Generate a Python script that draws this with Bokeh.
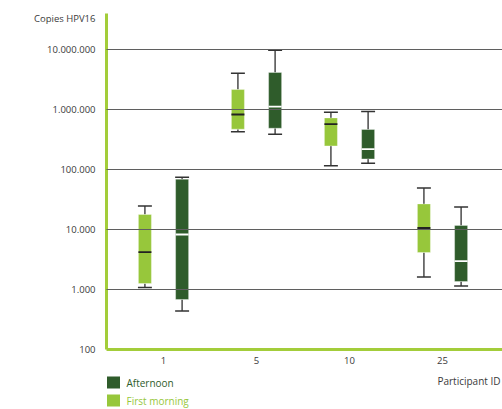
from bokeh.plotting import figure
from bokeh.layouts import column
from bokeh.models import Range1d, FixedTicker
from bokeh.core.properties import value
from bokeh.embed import file_html
from bokeh.resources import INLINE

participants = ["1", "5", "10", "25"]

# First morning series (light green)
fm_low = [1080, 424000, 115000, 1620]
fm_q1 = [1260, 470000, 247000, 4140]
fm_med = [4190, 826000, 569000, 10600]
fm_q3 = [17800, 2150000, 725000, 26700]
fm_high = [24700, 4030000, 902000, 49400]

# Afternoon series (dark green)
af_low = [440, 387000, 127000, 1140]
af_q1 = [681, 487000, 150000, 1360]
af_med = [8250, 1120000, 218000, 2960]
af_q3 = [68900, 4140000, 464000, 11700]
af_high = [74500, 9730000, 926000, 23800]

ytick_values = [100, 1000, 10000, 100000, 1000000, 10000000]
ytick_labels = ["100", "1.000", "10.000", "100.000", "1.000.000", "10.000.000"]
y_title = "Copies HPV16"
x_title = "Participant ID"
series_names = ["Afternoon", "First morning"]

LIGHT = "#97C73B"
DARK = "#2F5C2B"
AXIS_GREEN = "#A3CD3A"
TEXT = "#3a3a3a"
FONT = "Open Sans"

W = 502
TOP = 13
FRAME_BOTTOM = 349
MAIN_H = 370
LEFT = 106
Y_TOP = 10 ** 7.6

p = figure(width=W, height=MAIN_H, y_axis_type="log",
           x_range=Range1d(0.387, 4.645), y_range=Range1d(100, Y_TOP),
           output_backend="svg", toolbar_location=None,
           min_border_left=LEFT, min_border_right=0, min_border_top=TOP,
           min_border_bottom=MAIN_H - FRAME_BOTTOM)
p.outline_line_color = None
p.xgrid.grid_line_color = None
p.ygrid.ticker = FixedTicker(ticks=ytick_values)
p.ygrid.grid_line_color = "#5f5f5f"
p.ygrid.grid_line_width = 1
p.ygrid.level = "annotation"

xs = list(range(1, len(participants) + 1))
p.xaxis.ticker = FixedTicker(ticks=xs)
p.xaxis.major_label_overrides = {x: lab for x, lab in zip(xs, participants)}

# y axis: the axis title sits in the tick-label column near the top
title_pos = 10 ** (7.6 - 4.5 / 60)
p.yaxis.ticker = FixedTicker(ticks=ytick_values + [title_pos])
overrides = {v: lab for v, lab in zip(ytick_values, ytick_labels)}
overrides[title_pos] = y_title
p.yaxis.major_label_overrides = overrides

for ax in (p.xaxis, p.yaxis):
    ax.axis_line_color = AXIS_GREEN
    ax.axis_line_width = 3
    ax.major_tick_line_color = None
    ax.minor_tick_line_color = None
    ax.major_label_text_font = FONT
    ax.major_label_text_color = TEXT
p.xaxis.major_label_text_font_size = "9.5px"
p.yaxis.major_label_text_font_size = "9.5px"
p.xaxis.major_label_standoff = 1
p.yaxis.major_label_standoff = 5

bw = 0.14
cw = 0.15
off = 0.2


def draw(offset, low, q1, med, q3, high, color, med_color):
    x = [v + offset for v in xs]
    p.segment(x0=x, y0=q3, x1=x, y1=high, line_color="#4a4a4a", line_width=1.5)
    p.segment(x0=x, y0=q1, x1=x, y1=low, line_color="#4a4a4a", line_width=1.5)
    p.segment(x0=[v - cw / 2 for v in x], y0=high, x1=[v + cw / 2 for v in x], y1=high,
              line_color="#333333", line_width=1.5)
    p.segment(x0=[v - cw / 2 for v in x], y0=low, x1=[v + cw / 2 for v in x], y1=low,
              line_color="#333333", line_width=1.5)
    p.vbar(x=x, width=bw, bottom=q1, top=q3, fill_color=color,
           line_color="white", line_alpha=0.35, line_width=1)
    p.segment(x0=[v - bw / 2 for v in x], y0=med, x1=[v + bw / 2 for v in x], y1=med,
              line_color=med_color, line_width=1.8)


draw(-off, fm_low, fm_q1, fm_med, fm_q3, fm_high, LIGHT, "#222222")
draw(off, af_low, af_q1, af_med, af_q3, af_high, DARK, "#ffffff")

# Bottom strip: legend and x-axis title (x in page pixels, frame aligned with main plot)
LEG_H = 409 - MAIN_H
q = figure(width=W, height=LEG_H, x_range=Range1d(LEFT, W), y_range=Range1d(LEG_H, 0),
           output_backend="svg", toolbar_location=None,
           min_border_left=LEFT, min_border_right=0, min_border_top=0, min_border_bottom=0)
q.axis.visible = False
q.grid.visible = False
q.outline_line_color = None

sw_x = [113, 113]
sw_y = [12, 30]
sw_colors = [DARK, LIGHT]
q.rect(x=sw_x, y=sw_y, width=13, height=12, fill_color=sw_colors, line_color=None)
q.text(x=[126, 126], y=sw_y, text=series_names, text_color=sw_colors,
       text_font=value(FONT), text_font_size="10px", text_baseline="middle",
       text_align="left")
q.text(x=[W - 2], y=[10], text=[x_title], text_color=TEXT, text_font=value(FONT),
       text_font_size="10px", text_baseline="middle", text_align="right")

open("out.html", "w").write(file_html(column(p, q, spacing=0), INLINE))
